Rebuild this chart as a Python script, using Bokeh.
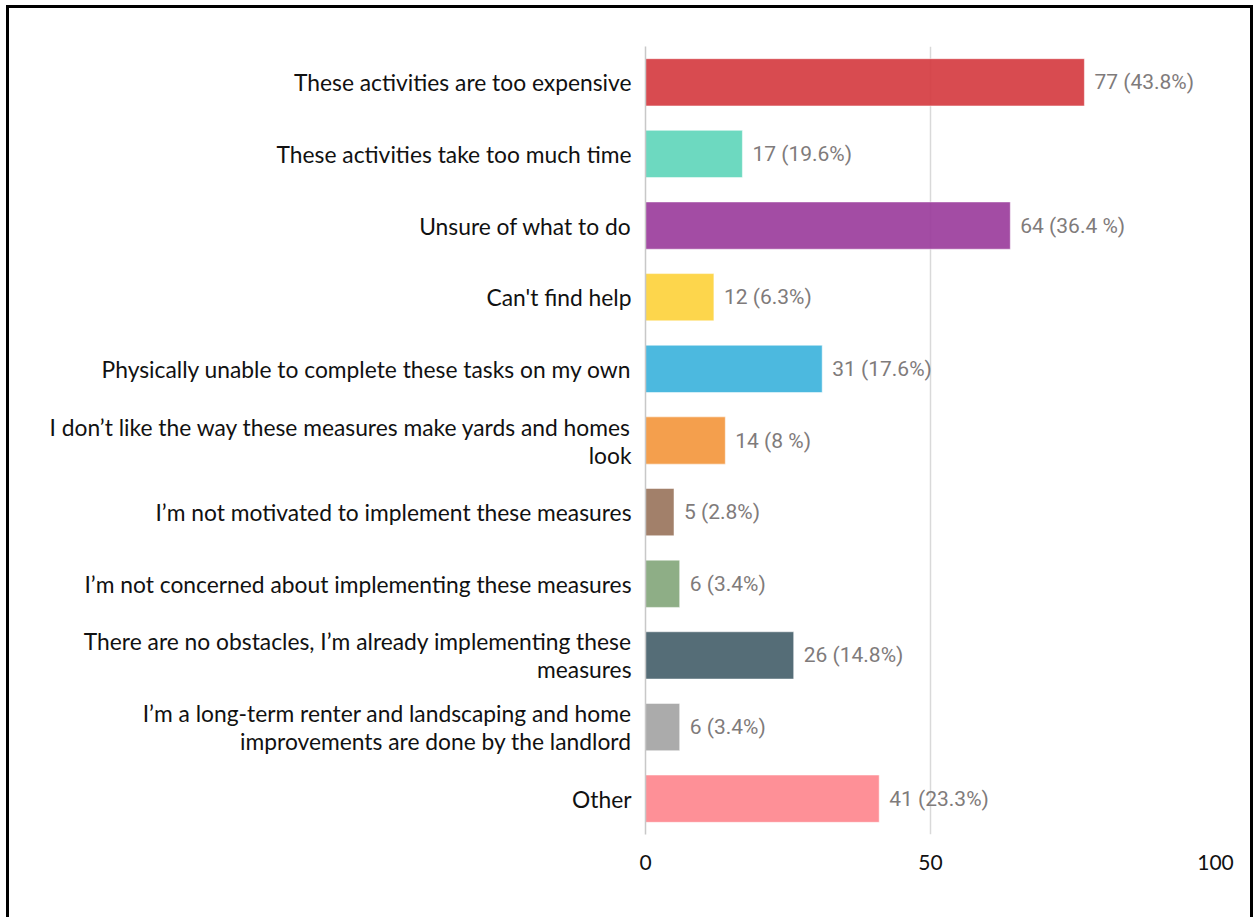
from bokeh.plotting import figure
from bokeh.models import ColumnDataSource, FactorRange, FixedTicker, LabelSet
from bokeh.core.properties import value
from bokeh.embed import file_html
from bokeh.resources import INLINE

# Survey responses: obstacles to implementing the measures
categories = [
    "These activities are too expensive",
    "These activities take too much time",
    "Unsure of what to do",
    "Can't find help",
    "Physically unable to complete these tasks on my own",
    "I don\u2019t like the way these measures make yards and homes\nlook",
    "I\u2019m not motivated to implement these measures",
    "I\u2019m not concerned about implementing these measures",
    "There are no obstacles, I\u2019m already implementing these\nmeasures",
    "I\u2019m a long-term renter and landscaping and home\nimprovements are done by the landlord",
    "Other",
]
counts = [77, 17, 64, 12, 31, 14, 5, 6, 26, 6, 41]
value_labels = [
    "77 (43.8%)", "17 (19.6%)", "64 (36.4 %)", "12 (6.3%)", "31 (17.6%)",
    "14 (8 %)", "5 (2.8%)", "6 (3.4%)", "26 (14.8%)", "6 (3.4%)", "41 (23.3%)",
]
bar_colors = [
    "#D4373D", "#5DD5B9", "#99389A", "#FDD239", "#39B1DC", "#F3953A",
    "#98725A", "#82A579", "#435D68", "#A2A2A2", "#FE848C",
]
x_ticks = [0, 50, 100]

source = ColumnDataSource(dict(
    cat=categories, count=counts, label=value_labels, color=bar_colors,
))

p = figure(
    width=1247, height=912,
    y_range=FactorRange(factors=categories[::-1]),
    x_range=(0, 100),
    output_backend="svg", toolbar_location=None,
    min_border_left=636, min_border_right=41,
    min_border_top=38, min_border_bottom=86,
)
p.styles = {
    "margin-left": "6px",
    "margin-top": "5px",
    "border-top": "3px solid black",
    "border-left": "3px solid black",
    "border-right": "3px solid black",
}

p.hbar(y="cat", right="count", height=0.66, left=0, source=source,
       fill_color="color", fill_alpha=0.9,
       line_color="white", line_alpha=0.5, line_width=1)

labels = LabelSet(x="count", y="cat", text="label", source=source,
                  x_offset=10, text_baseline="middle", text_align="left",
                  text_font=value("Roboto"), text_font_size="21px",
                  text_color="#7F7B7B")
p.add_layout(labels)

p.outline_line_color = None
p.background_fill_color = "white"
p.border_fill_color = "white"

p.xgrid.ticker = FixedTicker(ticks=x_ticks)
p.xgrid.grid_line_color = "#D9D9D9"
p.xgrid.grid_line_width = 1.5
p.ygrid.grid_line_color = None

p.xaxis.ticker = FixedTicker(ticks=x_ticks)
p.xaxis.axis_line_color = None
p.xaxis.major_tick_line_color = None
p.xaxis.minor_tick_line_color = None
p.xaxis.major_label_standoff = 14
p.xaxis.major_label_text_font = "Lato"
p.xaxis.major_label_text_font_size = "21px"
p.xaxis.major_label_text_color = "#111111"

p.yaxis.axis_line_color = "#C8C8C8"
p.yaxis.axis_line_width = 1.5
p.yaxis.major_tick_line_color = None
p.yaxis.minor_tick_line_color = None
p.yaxis.major_label_standoff = 8
p.yaxis.major_label_text_font = "Lato"
p.yaxis.major_label_text_font_size = "22.8px"
p.yaxis.major_label_text_line_height = 1.0
p.yaxis.major_label_text_color = "#111111"

open("out.html", "w").write(file_html(p, INLINE))
